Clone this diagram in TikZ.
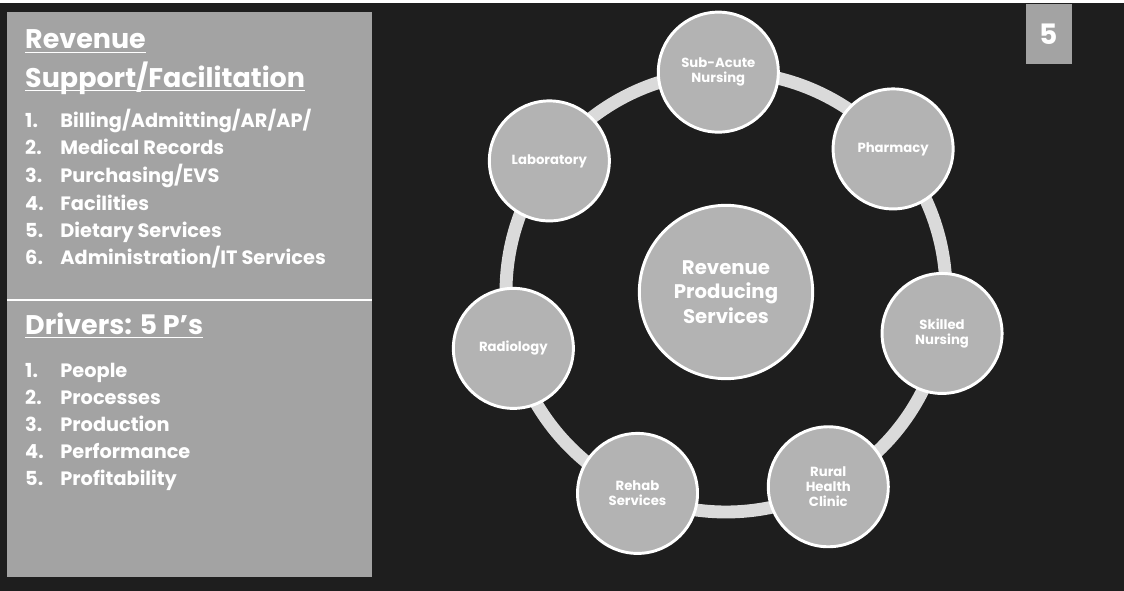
\documentclass[tikz,border=0pt]{standalone}
\usepackage{fontspec}
\setmainfont{Poppins}
\definecolor{panel}{HTML}{A3A3A3}
\definecolor{night}{HTML}{1E1E1E}
\definecolor{discgrey}{HTML}{B3B3B3}
\definecolor{band}{HTML}{DADADA}
\def\ringr{220}
\def\ringstep{51.43}

\begin{document}
\begin{tikzpicture}[x=0.03cm,y=-0.03cm,
    title/.style={anchor=base west,inner sep=0,text=white,font=\fontsize{23}{26}\selectfont\bfseries},
    item/.style={anchor=base west,inner sep=0,text=white,font=\fontsize{16.5}{18}\selectfont\bfseries},
    disc/.style={circle,draw=white,line width=2.5pt,fill=discgrey,text=white,minimum size=3.6cm,
        inner sep=0,align=center,font=\fontsize{11.3}{13}\selectfont\bfseries},
    hub/.style={disc,minimum size=5.2cm,font=\fontsize{16.8}{21}\selectfont\bfseries}]
    % background and left panel
    \fill[night] (0,0) rectangle (1124,591);
    \fill[white] (0,0) rectangle (1124,3);
    \fill[panel] (7,12) rectangle (372,577);
    \draw[white,line width=1.7pt] (7,300) -- (372,300);

    % revenue support list
    \node[title] (rev) at (25,49) {Revenue};
    \node[title] (sup) at (25,87) {Support/Facilitation};
    \foreach \y/\n/\t in {127/1/{Billing/Admitting/AR/AP/},154/2/{Medical Records},
        182/3/{Purchasing/EVS},210/4/{Facilities},237/5/{Dietary Services},
        264/6/{Administration/IT Services}}
        \node[item] (s\n) at (25,\y) {\makebox[30pt][l]{\n.}\t};

    % drivers list
    \node[title] (drv) at (25,334) {Drivers: 5 P's};
    \foreach \y/\n/\t in {377/1/People,404/2/Processes,431/3/Production,
        458/4/Performance,485/5/Profitability}
        \node[item] (d\n) at (25,\y) {\makebox[30pt][l]{\n.}\t};
    \foreach \n in {rev,sup,drv}
        \draw[white,line width=1.5pt] ([yshift=-3pt]\n.base west) -- ([yshift=-3pt]\n.base east);

    % service ring
    \coordinate (hubc) at (726,292);
    \draw[band,line width=11pt] (hubc) circle (\ringr);
    \node[hub] (hub) at (hubc) {Revenue\\Producing\\Services};
    \foreach \a/\nm/\t in {0/subacute/{Sub-Acute\\Nursing},1/pharmacy/{Pharmacy},
        2/skilled/{Skilled\\Nursing},3/rural/{Rural\\Health\\Clinic},
        4/rehab/{Rehab\\Services},5/radiology/{Radiology},6/lab/{Laboratory}}
        \node[disc] (\nm) at ([shift={(-92+\ringstep*\a:\ringr)}]hubc) {\t};

    % slide number
    \node[fill=panel,minimum width=1.4cm,minimum height=1.8cm,text=white,
        font=\fontsize{24}{24}\selectfont\bfseries] (page) at (1049,34) {5};
\end{tikzpicture}
\end{document}
